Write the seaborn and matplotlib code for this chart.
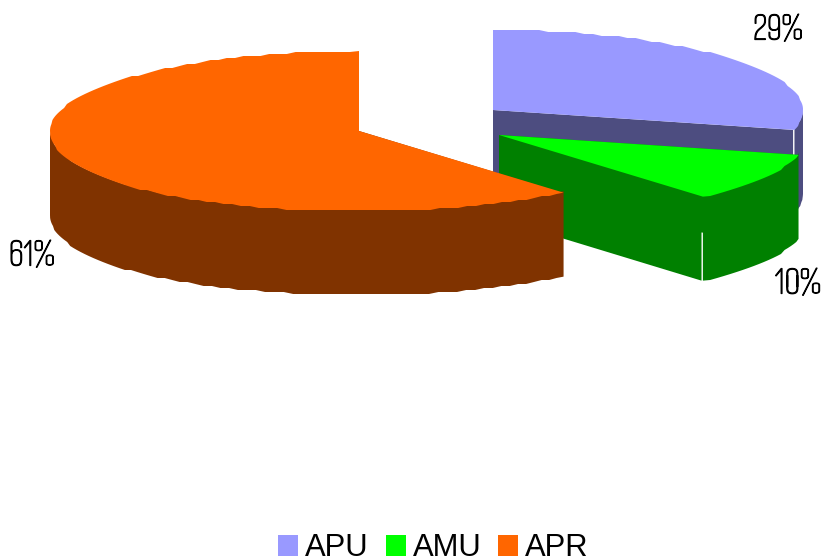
import numpy as np
import matplotlib
matplotlib.use("Agg")
import matplotlib.pyplot as plt
import matplotlib.patheffects as pe
from matplotlib.patches import Patch
import seaborn as sns

categories = ["APU", "AMU", "APR"]
shares = [29, 10, 61]
top_colors = ["#9999FF", "#00FF00", "#FF6600"]
wall_colors = ["#4D4D80", "#008000", "#803300"]

# Exploded slice geometry in figure pixels: centre x, centre y, x radius
centers_x = [493, 499, 359]
centers_y = [110, 135, 131]
radii_x = [310, 308, 309]
RADIUS_Y = 80
DEPTH = 84
PERSPECTIVE = 0.065
label_xy = [(778, 30), (798, 284), (32, 256)]

sns.set_theme(style="white")
W, H = 823, 557
fig = plt.figure(figsize=(W / 100, H / 100), dpi=100)
ax = fig.add_axes([0, 0, 1, 1])
ax.set_xlim(0, W)
ax.set_ylim(H, 0)
ax.axis("off")


def rim(cx, cy, rx, t0, t1):
    """Points along a slice's rim, snapped to a coarse grid for a stepped edge."""
    n = max(int((t1 - t0) * rx / 9), 2)
    t = np.linspace(t0, t1, n)
    s = RADIUS_Y * -np.cos(t)
    x = cx + rx * np.sin(t) * (1 + PERSPECTIVE * (np.maximum(s, 0) / RADIUS_Y) ** 2)
    y = cy + s
    inner = np.arange(1, n - 1)
    y[inner] = np.round(y[inner] / 2) * 2
    return x, y


fractions = np.array(shares) / sum(shares)
edges = np.concatenate([[0], np.cumsum(fractions)]) * 2 * np.pi

# Back to front so the nearer slices cover the farther ones
for i in range(len(categories)):
    cx, cy, rx = centers_x[i], centers_y[i], radii_x[i]
    x, y = rim(cx, cy, rx, edges[i], edges[i + 1])

    # Radial side walls, pulled back slightly from the rim wall to leave a seam
    for xe, ye in ((x[0], y[0]), (x[-1], y[-1])):
        seam = 1.4 if xe > cx + 1 else 0.0
        ax.fill([cx, xe - seam, xe - seam, cx],
                [cy, ye, ye + DEPTH, cy + DEPTH],
                color=wall_colors[i], lw=0, zorder=i * 3 + 1)

    # Outer wall on the viewer's side; its upper edge tucks under the top face
    start = max(edges[i], np.pi / 2)
    stop = min(edges[i + 1], 3 * np.pi / 2)
    if stop > start:
        xw, yw = rim(cx, cy, rx, start, stop)
        ax.fill(np.r_[xw, xw[::-1]], np.r_[yw - 1.5, yw[::-1] + DEPTH],
                color=wall_colors[i], lw=0, zorder=i * 3 + 2)

    ax.fill(np.r_[cx, x], np.r_[cy, y], color=top_colors[i], lw=0,
            zorder=i * 3 + 3)

for (lx, ly), share in zip(label_xy, shares):
    ax.text(lx, ly, f"{share}%", ha="center", va="center", fontsize=29,
            color="black", zorder=20,
            family=["Smooch Sans", "Liberation Sans"],
            path_effects=[pe.withStroke(linewidth=0.9, foreground="black")])

handles = [Patch(facecolor=c, edgecolor="none", label=n)
           for c, n in zip(top_colors, categories)]
ax.legend(handles=handles, loc="lower center", bbox_to_anchor=(433.5 / W, -0.011),
          ncol=3, frameon=False, borderpad=0, borderaxespad=0,
          prop={"family": "Liberation Sans", "size": 22.3},
          handlelength=0.645, handleheight=0.645, handletextpad=0.226,
          columnspacing=0.55, labelcolor="black")

fig.savefig("out.png", dpi=100)
